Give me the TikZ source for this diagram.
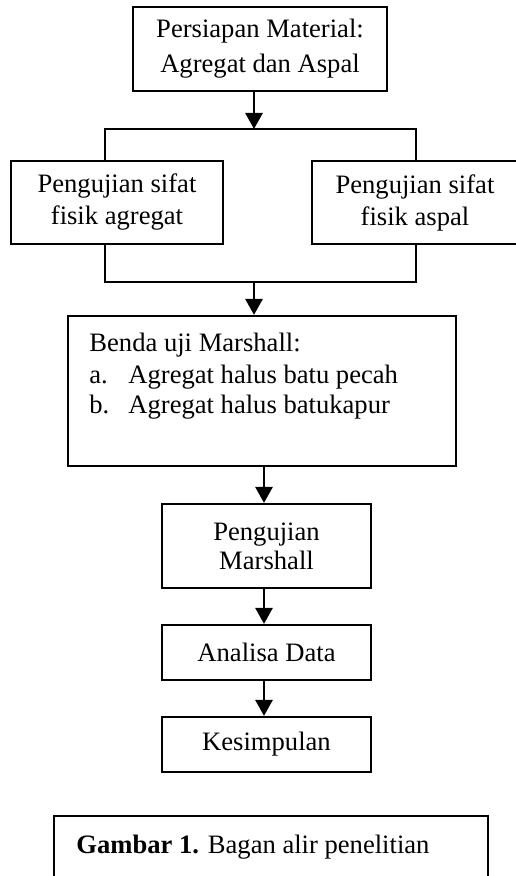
\documentclass[tikz,border=0pt]{standalone}
\usepackage{fontspec}
\setmainfont{Liberation Serif}
\usetikzlibrary{arrows.meta}
\begin{document}
\begin{tikzpicture}[x=0.5pt,y=-0.5pt,
  box/.style={draw,line width=1.1pt,rectangle,inner sep=0pt,align=center,
    font=\fontsize{13.3pt}{16pt}\selectfont},
  txt/.style={inner sep=0pt,font=\fontsize{13.3pt}{16pt}\selectfont},
  conn/.style={line width=1.1pt},
  arr/.style={line width=1.4pt,-{Triangle[length=8pt,width=8.5pt]}}]
\useasboundingbox (0,0) rectangle (515,876);

\node[box,minimum width=127pt,minimum height=42pt,
  font=\fontsize{13.3pt}{17.5pt}\selectfont] (b1) at (260,49)
  {Persiapan Material:\\Agregat dan Aspal};
\node[box,minimum width=106pt,minimum height=41.5pt] (left) at (117,202.5)
  {Pengujian sifat\\fisik agregat};
\node[box,minimum width=103pt,minimum height=41.5pt] (right) at (415,202.5)
  {Pengujian sifat\\fisik aspal};
\node[box,minimum width=194pt,minimum height=75pt] (benda) at (262,391) {};
\node[txt,anchor=base west] (t1) at (89,352) {Benda uji Marshall:};
\node[txt,anchor=base west] (t2) at (89,383) {a.};
\node[txt,anchor=base west] (t3) at (128,383) {Agregat halus batu pecah};
\node[txt,anchor=base west] (t4) at (89,413) {b.};
\node[txt,anchor=base west] (t5) at (128,413) {Agregat halus batukapur};
\node[box,minimum width=104.5pt,minimum height=42pt,
  font=\fontsize{13.3pt}{14.5pt}\selectfont] (pm) at (266.5,546)
  {Pengujian\\Marshall};
\node[box,minimum width=104.5pt,minimum height=27.5pt] (ad) at (266.5,652.5)
  {Analisa Data};
\node[box,minimum width=104.5pt,minimum height=27.5pt] (ks) at (266.5,744.5)
  {Kesimpulan};
\node[box,minimum width=217pt,minimum height=42pt] (cap) at (271,858) {};
\node[txt,anchor=base west] (capt) at (76,853)
  {\textbf{Gambar 1.} Bagan alir penelitian};

\coordinate (j1) at (254,129);
\coordinate (tl) at (105,129);
\coordinate (tr) at (416,129);
\coordinate (bl) at (105,282);
\coordinate (br) at (416,282);
\coordinate (j2) at (254,282);
\coordinate (ax) at (264,0);

\draw[arr] (b1.south -| j1) -- (j1);
\draw[conn] (left.north -| tl) -- (tl) -- (tr) -- (right.north -| tr);
\draw[conn] (left.south -| bl) -- (bl) -- (br) -- (right.south -| br);
\draw[arr] (j2) -- (benda.north -| j2);
\draw[arr] (benda.south -| ax) -- (pm.north -| ax);
\draw[arr] (pm.south -| ax) -- (ad.north -| ax);
\draw[arr] (ad.south -| ax) -- (ks.north -| ax);
\end{tikzpicture}
\end{document}
